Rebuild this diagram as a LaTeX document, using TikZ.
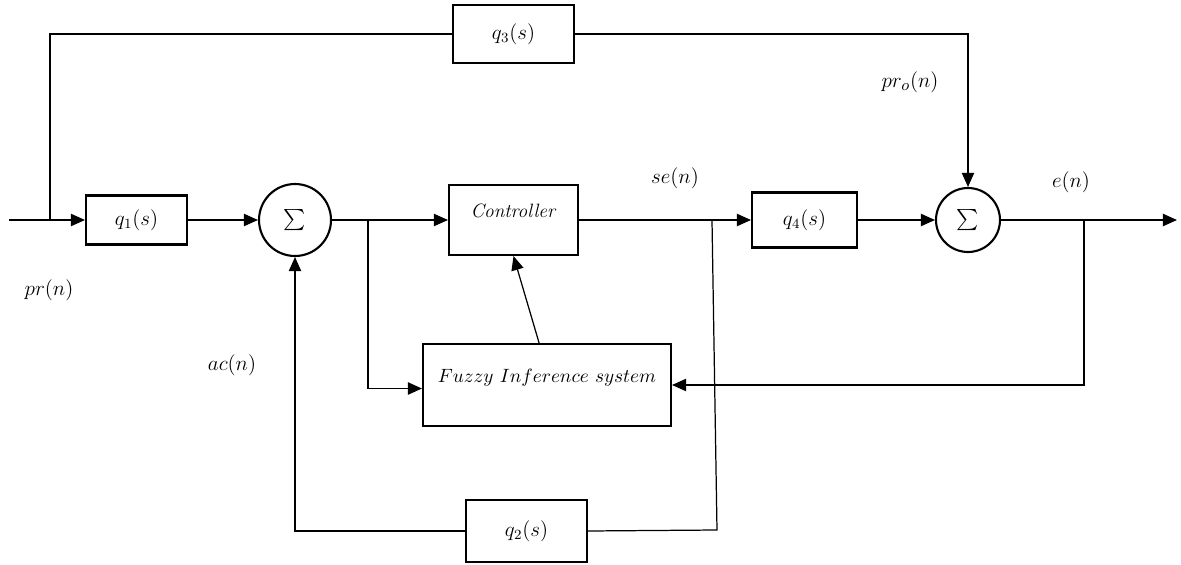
\documentclass[tikz,border=0pt]{standalone}
\usepackage{amsmath,amssymb}
\usepackage{tikz}
\usetikzlibrary{arrows.meta}

\begin{document}
\begin{tikzpicture}[
    x=0.02cm, y=-0.02cm,
    block/.style={
        rectangle,
        draw,
        line width=1.2pt,
        inner sep=0pt,
        font=\large
    },
    sumnode/.style={
        circle,
        draw,
        line width=1.2pt,
        inner sep=0pt,
        minimum size=#1,
        font=\large
    },
    arrow/.style={
        -{Triangle[length=8pt,width=7pt]},
        line width=0.7pt
    },
    wire/.style={
        line width=0.7pt
    },
    lbl/.style={
        font=\fontsize{13}{15}\selectfont
    }
]
    \useasboundingbox (0,0) rectangle (1181,565);

    % forward path
    \coordinate (in) at (9,220);
    \coordinate (split1) at (50,220);
    \node[block, minimum width=2.02cm, minimum height=0.98cm] (q1) at (136.5,220) {$q_1(s)$};
    \node[sumnode=1.44cm] (sum1) at (295,220) {$\sum$};
    \coordinate (split2) at (368,220);
    \node[block, minimum width=2.58cm, minimum height=1.4cm, font=\fontsize{11}{13}\selectfont,
          text height=8pt, text depth=10.6pt] (ctrl) at (513.5,220) {\textit{Controller}};
    \coordinate (sesplit) at (712,220);
    \node[block, minimum width=2.1cm, minimum height=1.1cm] (q4) at (804.5,220) {$q_4(s)$};
    \node[sumnode=1.28cm] (sum2) at (968,220) {$\sum$};
    \coordinate (esplit) at (1084,220);
    \coordinate (out) at (1177,220);

    % feedforward and feedback blocks
    \node[block, minimum width=2.42cm, minimum height=1.16cm] (q3) at (513.5,34) {$q_3(s)$};
    \node[block, minimum width=4.96cm, minimum height=1.64cm, font=\fontsize{11}{13}\selectfont,
          text height=8pt, text depth=11pt] (fis) at (547,385) {$Fuzzy\ Inference\ system$};
    \node[block, minimum width=2.42cm, minimum height=1.24cm] (q2) at (526.5,531) {$q_2(s)$};
    \coordinate (secorner) at (717,530);

    % signal labels
    \node[lbl] (lpr) at (49,290) {$pr(n)$};
    \node[lbl] (lac) at (232,365) {$ac(n)$};
    \node[lbl] (lse) at (675,178) {$se(n)$};
    \node[lbl] (lpro) at (910,82) {$pr_o(n)$};
    \node[lbl] (le) at (1071,182) {$e(n)$};

    \draw[arrow] (in) -- (q1);
    \draw[arrow] (q1) -- (sum1);
    \draw[arrow] (sum1) -- (ctrl);
    \draw[arrow] (ctrl) -- (q4);
    \draw[arrow] (q4) -- (sum2);
    \draw[arrow] (sum2) -- (out);

    \draw[wire] (split1) |- (q3);
    \draw[arrow] (q3) -| (sum2);
    \draw[arrow] (split2) |- ([yshift=-2pt]fis.west);
    \draw[arrow] ([xshift=-4.5pt]fis.north) -- (ctrl.south);
    \draw[arrow] (esplit) |- (fis.east);
    \draw[wire] (sesplit) -- (secorner) -- (q2.east);
    \draw[arrow] (q2) -| (sum1);
\end{tikzpicture}
\end{document}
